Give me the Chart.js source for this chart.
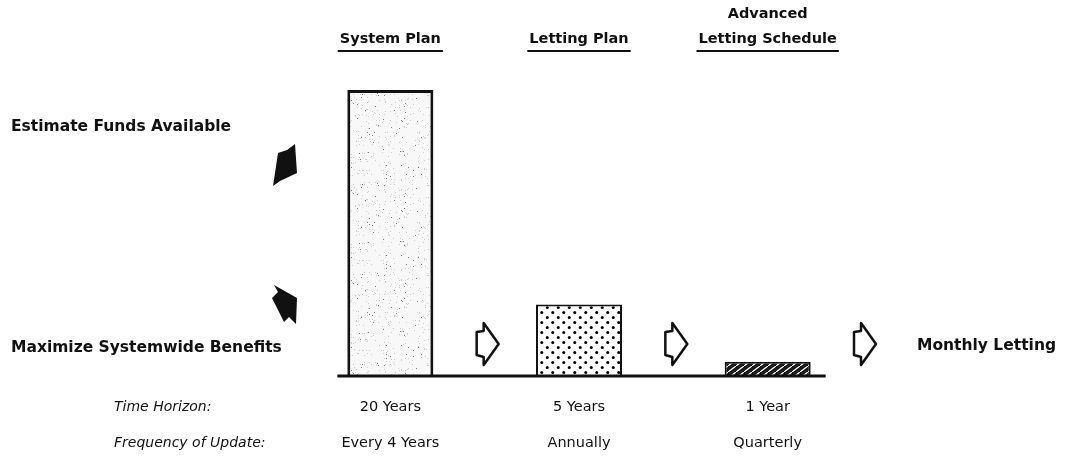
<!DOCTYPE html>
<html>
<head>
<meta charset="utf-8">
<script src="https://cdn.jsdelivr.net/npm/chart.js"></script>
<style>
  html, body { margin: 0; padding: 0; background: #fff; }
  #wrap { width: 1065px; height: 457px; position: relative; }
</style>
</head>
<body>
<div id="wrap"><canvas id="myChart"></canvas></div>
<script>
/* data */
const categories = [['System Plan'], ['Letting Plan'], ['Advanced', 'Letting Schedule']];
const horizonYears = [20, 5, 1];
const horizonLabels = ['20 Years', '5 Years', '1 Year'];
const updateLabels = ['Every 4 Years', 'Annually', 'Quarterly'];
const rowTitles = ['Time Horizon:', 'Frequency of Update:'];
const sideNotes = ['Estimate Funds Available', 'Maximize Systemwide Benefits'];
const endNote = 'Monthly Letting';

/* fills */
function stipple() {
  const c = document.createElement('canvas');
  c.width = 90; c.height = 90;
  const g = c.getContext('2d');
  g.fillStyle = '#f8f8f8';
  g.fillRect(0, 0, 90, 90);
  let s = 7;
  for (let i = 0; i < 360; i++) {
    s = (s * 73 + 41) % 8093;
    const px = s % 90;
    s = (s * 73 + 41) % 8093;
    const py = s % 90;
    g.fillStyle = i % 6 === 0 ? '#777' : '#cccccc';
    g.fillRect(px, py, 1, 1);
  }
  return g.createPattern(c, 'repeat');
}

function dots() {
  const c = document.createElement('canvas');
  c.width = 11; c.height = 10;
  const g = c.getContext('2d');
  g.fillStyle = '#fff';
  g.fillRect(0, 0, 11, 10);
  g.fillStyle = '#000';
  [[2.75, 2.5], [8.25, 7.5]].forEach(function(p) {
    g.beginPath();
    g.arc(p[0], p[1], 1.5, 0, Math.PI * 2);
    g.fill();
  });
  return g.createPattern(c, 'repeat');
}

function hatch() {
  const c = document.createElement('canvas');
  c.width = 8; c.height = 6;
  const g = c.getContext('2d');
  g.fillStyle = '#1a1a1a';
  g.fillRect(0, 0, 8, 6);
  g.strokeStyle = '#fff';
  g.lineWidth = 1.3;
  g.beginPath();
  g.moveTo(0, 6); g.lineTo(8, 0);
  g.stroke();
  return g.createPattern(c, 'repeat');
}

function poly(ctx, pts) {
  ctx.beginPath();
  ctx.moveTo(pts[0][0], pts[0][1]);
  for (let i = 1; i < pts.length; i++) ctx.lineTo(pts[i][0], pts[i][1]);
  ctx.closePath();
}

/* labels, arrows, baseline */
const decor = {
  id: 'decor',
  afterDatasetsDraw(chart) {
    const ctx = chart.ctx;
    const x = chart.scales.x;
    const area = chart.chartArea;
    const step = x.getPixelForValue(1) - x.getPixelForValue(0);
    ctx.save();
    ctx.fillStyle = '#111';
    ctx.strokeStyle = '#111';

    // baseline
    ctx.lineWidth = 3;
    ctx.beginPath();
    ctx.moveTo(x.getPixelForValue(0) - 53, area.bottom);
    ctx.lineTo(x.getPixelForValue(categories.length - 1) + 58, area.bottom);
    ctx.stroke();

    // headers
    ctx.font = 'bold 14.5px "DejaVu Sans"';
    ctx.textAlign = 'center';
    ctx.textBaseline = 'middle';
    categories.forEach(function(lines, i) {
      const cx = x.getPixelForValue(i);
      for (let k = 0; k < lines.length; k++) {
        const y = 39 - (lines.length - 1 - k) * 25;
        ctx.fillText(lines[k], cx, y);
      }
      const w = ctx.measureText(lines[lines.length - 1]).width + 4;
      ctx.lineWidth = 2;
      ctx.beginPath();
      ctx.moveTo(cx - w / 2, 51);
      ctx.lineTo(cx + w / 2, 51);
      ctx.stroke();
    });

    // hollow arrows between stages
    const yc = area.bottom - 32;
    ctx.lineWidth = 2.5;
    ctx.lineJoin = 'round';
    for (let i = 0; i < categories.length; i++) {
      const m = x.getPixelForValue(i) + step / 2;
      poly(ctx, [[m - 8, yc - 12], [m - 1, yc - 13], [m - 1, yc - 21], [m + 14, yc],
                 [m - 1, yc + 21], [m - 1, yc + 13], [m - 8, yc + 11]]);
      ctx.fillStyle = '#fff';
      ctx.fill();
      ctx.stroke();
    }
    ctx.fillStyle = '#111';

    // side notes
    ctx.font = 'bold 15.5px "DejaVu Sans"';
    ctx.textAlign = 'left';
    ctx.fillText(sideNotes[0], 11, 127);
    ctx.fillText(sideNotes[1], 11, 348);
    ctx.fillText(endNote, x.getPixelForValue(categories.length - 1) + step / 2 + 55, 346);

    // solid arrows
    poly(ctx, [[273, 186], [278, 153], [287, 150], [295, 144], [297, 173], [280, 181]]);
    ctx.fill();
    poly(ctx, [[274, 285], [297, 298], [296, 324], [289, 317], [284, 322], [272, 298], [278, 292]]);
    ctx.fill();

    // bottom rows
    ctx.font = 'italic 14px "DejaVu Sans"';
    ctx.fillText(rowTitles[0], 114, 407);
    ctx.fillText(rowTitles[1], 114, 443);
    ctx.font = '14.5px "DejaVu Sans"';
    ctx.textAlign = 'center';
    for (let i = 0; i < categories.length; i++) {
      const cx = x.getPixelForValue(i);
      ctx.fillText(horizonLabels[i], cx, 407);
      ctx.fillText(updateLabels[i], cx, 443);
    }
    ctx.restore();
  }
};

const ctx = document.getElementById('myChart').getContext('2d');

new Chart(ctx, {
  type: 'bar',
  data: {
    labels: categories.map(function(c) { return c.join(' '); }),
    datasets: [{
      label: 'Time horizon (years)',
      data: horizonYears,
      backgroundColor: [stipple(), dots(), hatch()],
      borderColor: '#111',
      borderWidth: [3, 2, 2],
      borderSkipped: 'start',
      categoryPercentage: 1,
      barPercentage: 0.456
    }]
  },
  options: {
    responsive: true,
    maintainAspectRatio: false,
    animation: false,
    layout: { padding: { top: 90, bottom: 81, left: 296, right: 203 } },
    scales: {
      x: { display: false },
      y: { display: false, min: 0, max: 20 }
    },
    plugins: {
      legend: { display: false },
      tooltip: { enabled: false }
    }
  },
  plugins: [decor]
});
</script>
</body>
</html>
